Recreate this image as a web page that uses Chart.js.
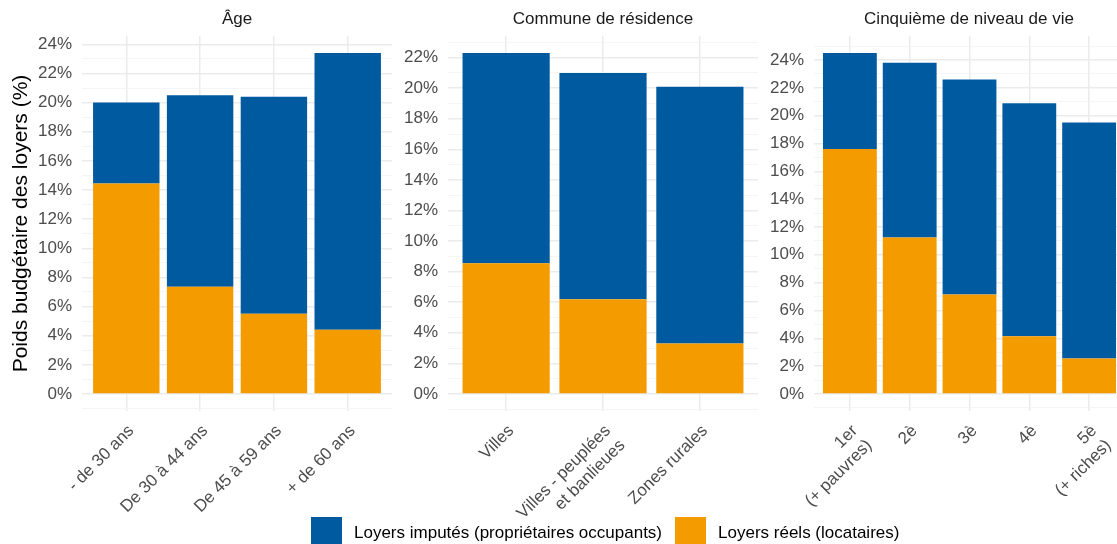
<!DOCTYPE html>
<html><head><meta charset="utf-8">
<script src="https://cdn.jsdelivr.net/npm/chart.js@4/dist/chart.umd.min.js"></script>
<style>
html,body{margin:0;padding:0;background:#fff;width:1117px;height:544px;overflow:hidden;font-family:"Liberation Sans",Arial,sans-serif;}
.panel{position:absolute;top:0;height:544px;}
.strip{position:absolute;top:9px;font-size:17px;color:#1a1a1a;transform:translateX(-50%);white-space:nowrap;line-height:20px;}
#legend{position:absolute;top:517px;left:311px;display:flex;align-items:center;font-size:17px;color:#000;white-space:nowrap;z-index:5;}
.key{width:31px;height:31px;display:inline-block;}
</style></head>
<body>
<div class="panel" style="left:0;width:400px;"><canvas id="c1"></canvas></div>
<div class="panel" style="left:395px;width:370px;"><canvas id="c2"></canvas></div>
<div class="panel" style="left:760px;width:380px;"><canvas id="c3"></canvas></div>
<div class="strip" style="left:237px;">Âge</div>
<div class="strip" style="left:603px;">Commune de résidence</div>
<div class="strip" style="left:969px;">Cinquième de niveau de vie</div>
<div id="legend">
  <span class="key" style="background:#005A9F"></span><span style="margin-left:12px;">Loyers imputés (propriétaires occupants)</span>
  <span class="key" style="background:#F49B00;margin-left:13px;"></span><span style="margin-left:12px;">Loyers réels (locataires)</span>
</div>
<script>
// ---- Data (in %) ----
const ageCategories = ["- de 30 ans", "De 30 à 44 ans", "De 45 à 59 ans", "+ de 60 ans"];
const ageReels      = [14.45, 7.35, 5.5, 4.4];
const ageImputes    = [5.55, 13.15, 14.9, 19.0];

const communeCategories = ["Villes", "Villes - peuplées\net banlieues", "Zones rurales"];
const communeReels      = [8.55, 6.2, 3.3];
const communeImputes    = [13.75, 14.8, 16.8];

const vieCategories = ["1er\n(+ pauvres)", "2è", "3è", "4è", "5è\n(+ riches)"];
const vieReels      = [17.6, 11.25, 7.15, 4.15, 2.55];
const vieImputes    = [6.9, 12.55, 15.45, 16.75, 16.95];

const seriesNames = ["Loyers réels (locataires)", "Loyers imputés (propriétaires occupants)"];
const seriesColors = ["#F49B00", "#005A9F"];

const FONT = "'Liberation Sans', Arial, sans-serif";

function makePanel(id, cats, reels, imputes, yWidth, rightPad, yTitle) {
  const totals = reels.map((v, i) => v + imputes[i]);
  const maxT = Math.max(...totals);
  const yMin = -0.05 * maxT, yMax = 1.05 * maxT;
  const toPts = arr => arr.map((v, i) => ({x: i, y: v}));
  new Chart(document.getElementById(id), {
    type: 'bar',
    data: {
      datasets: [
        {label: seriesNames[0], data: toPts(reels), backgroundColor: seriesColors[0], borderWidth: 0},
        {label: seriesNames[1], data: toPts(imputes), backgroundColor: seriesColors[1], borderWidth: 0}
      ]
    },
    options: {
      responsive: true, maintainAspectRatio: false, animation: false,
      layout: {padding: {top: 36, right: rightPad, left: 0, bottom: 0}},
      datasets: {bar: {barPercentage: 0.9, categoryPercentage: 1}},
      plugins: {legend: {display: false}, tooltip: {enabled: false}},
      scales: {
        x: {
          type: 'linear', stacked: true, offset: false,
          min: -0.6, max: cats.length - 1 + 0.6,
          afterBuildTicks: s => { s.ticks = cats.map((c, i) => ({value: i})); },
          afterFit: s => { s.height = 133; },
          border: {display: false},
          grid: {color: '#EBEBEB', lineWidth: 1.5, drawTicks: false, offset: false},
          ticks: {
            autoSkip: false, minRotation: 45, maxRotation: 45, padding: 10, labelOffset: 5,
            color: '#4D4D4D', font: {family: FONT, size: 17},
            callback: v => { const l = cats[v]; return l === undefined ? '' : (l.includes('\n') ? l.split('\n') : l); }
          }
        },
        y: {
          type: 'linear', stacked: true,
          min: yMin, max: yMax,
          afterBuildTicks: s => { const t = []; for (let v = Math.ceil(yMin); v <= Math.floor(yMax); v++) t.push({value: v}); s.ticks = t; },
          afterFit: s => { s.width = yWidth; },
          border: {display: false},
          grid: {
            drawTicks: false,
            color: c => (c.tick && c.tick.value % 2 === 0) ? '#EBEBEB' : '#F3F3F3',
            lineWidth: c => (c.tick && c.tick.value % 2 === 0) ? 1.5 : 0.8
          },
          ticks: {
            autoSkip: false,
            padding: 10, color: '#4D4D4D', font: {family: FONT, size: 17},
            callback: v => (v >= 0 && v % 2 === 0) ? v + '%' : ''
          },
          title: yTitle ? {display: true, text: yTitle, color: '#000', font: {family: FONT, size: 21}, padding: {top: 9, bottom: 0}} : {display: false}
        }
      }
    }
  });
}

makePanel('c1', ageCategories, ageReels, ageImputes, 82, 8, 'Poids budgétaire des loyers (%)');
makePanel('c2', communeCategories, communeReels, communeImputes, 53, 7, null);
makePanel('c3', vieCategories, vieReels, vieImputes, 54, 15, null);
</script>
</body></html>
